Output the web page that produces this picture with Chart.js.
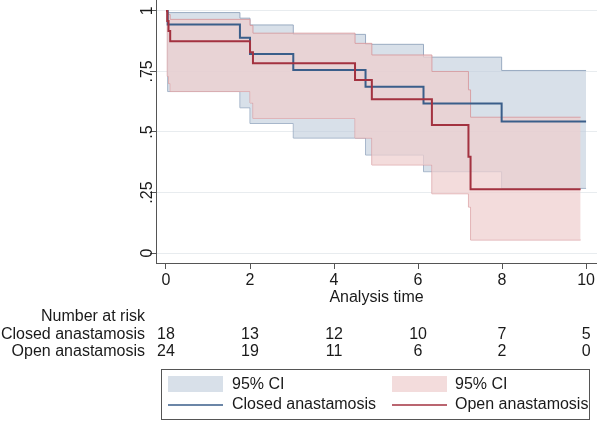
<!DOCTYPE html>
<html>
<head>
<meta charset="utf-8">
<script src="https://cdn.jsdelivr.net/npm/chart.js@4/dist/chart.umd.min.js"></script>
<style>
  html, body { margin: 0; padding: 0; background: #ffffff; }
  #wrap { width: 597px; height: 421px; position: relative; }
</style>
</head>
<body>
<div id="wrap"><canvas id="c" width="597" height="421"></canvas></div>
<script>
// ---- Data ----
const closedTime = [0, 0.04, 1.76, 2.0, 3.03, 4.75, 6.13, 7.99, 10.0];
const closedSurv = [1, 0.944, 0.889, 0.822, 0.756, 0.687, 0.618, 0.543, 0.543];
const closedCITime = [0, 0.04, 1.76, 2.0, 3.03, 4.75, 6.13, 7.99, 10.0];
const closedUpper = [1, 0.993, 0.97, 0.942, 0.903, 0.862, 0.809, 0.754, 0.754];
const closedLower = [1, 0.667, 0.60, 0.535, 0.475, 0.405, 0.336, 0.267, 0.267];

const openTime = [0, 0.03, 0.06, 0.1, 2.0, 2.07, 4.5, 4.9, 6.33, 7.2, 7.25, 9.87];
const openSurv = [1, 0.958, 0.917, 0.875, 0.829, 0.784, 0.715, 0.635, 0.529, 0.398, 0.264, 0.264];
const openCITime = [0, 0.03, 0.06, 0.1, 2.0, 2.07, 4.5, 4.9, 6.33, 7.2, 7.25, 9.87];
const openUpper = [1, 0.995, 0.985, 0.965, 0.94, 0.908, 0.866, 0.818, 0.75, 0.674, 0.561, 0.561];
const openLower = [1, 0.73, 0.70, 0.667, 0.62, 0.556, 0.475, 0.364, 0.245, 0.19, 0.054, 0.054];

const xTicks = [0, 2, 4, 6, 8, 10];
const yTicks = [0, 0.25, 0.5, 0.75, 1];
const yTickLabels = ['0', '.25', '.5', '.75', '1'];
const xTitle = 'Analysis time';

const riskTimes = [0, 2, 4, 6, 8, 10];
const riskHeader = 'Number at risk';
const groupNames = ['Closed anastamosis', 'Open anastamosis'];
const riskClosed = [18, 13, 12, 10, 7, 5];
const riskOpen = [24, 19, 11, 6, 2, 0];
const ciLabel = '95% CI';

// ---- Styles ----
const FONT = '"Liberation Sans", Arial, Helvetica, sans-serif';
const TXT = '#1a1a1a';
const BLUE = 'rgb(58,94,138)';
const RED = 'rgb(163,50,64)';
const BLUE_FILL = 'rgba(190,203,219,0.6)';
const BLUE_EDGE = 'rgba(140,160,186,0.85)';
const PINK_FILL = 'rgba(238,206,206,0.72)';
const PINK_EDGE = 'rgba(214,150,155,0.85)';

function pts(xs, ys) { return xs.map((x, i) => ({ x: x, y: ys[i] })); }

const overlay = {
  id: 'overlay',
  afterDraw(chart) {
    const ctx = chart.ctx;
    const xs = chart.scales.x, ys = chart.scales.y;
    const ca = chart.chartArea;
    ctx.save();
    ctx.fillStyle = TXT;
    ctx.font = '16px ' + FONT;
    // rotated y tick labels
    yTicks.forEach((v, i) => {
      const py = ys.getPixelForValue(v);
      ctx.save();
      ctx.translate(148, py);
      ctx.rotate(-Math.PI / 2);
      ctx.textAlign = 'center';
      ctx.textBaseline = 'middle';
      ctx.fillText(yTickLabels[i], 0, 0);
      ctx.restore();
    });
    // x title
    ctx.textAlign = 'center';
    ctx.textBaseline = 'middle';
    ctx.fillText(xTitle, (ca.left + ca.right) / 2, 298);
    // risk table
    ctx.textAlign = 'right';
    ctx.fillText(riskHeader, 145, 317);
    ctx.fillText(groupNames[0], 145, 335);
    ctx.fillText(groupNames[1], 145, 352);
    ctx.textAlign = 'center';
    riskTimes.forEach((t, i) => {
      const px = xs.getPixelForValue(t);
      ctx.fillText(String(riskClosed[i]), px, 335);
      ctx.fillText(String(riskOpen[i]), px, 352);
    });
    // legend
    ctx.strokeStyle = '#555';
    ctx.lineWidth = 1;
    ctx.strokeRect(161.5, 369.5, 428, 50);
    ctx.fillStyle = BLUE_FILL;
    ctx.fillRect(168, 376, 55, 16);
    ctx.fillStyle = PINK_FILL;
    ctx.fillRect(392, 376, 55, 16);
    ctx.lineWidth = 1.5;
    ctx.strokeStyle = BLUE;
    ctx.beginPath(); ctx.moveTo(168, 405); ctx.lineTo(223, 405); ctx.stroke();
    ctx.strokeStyle = RED;
    ctx.beginPath(); ctx.moveTo(392, 405); ctx.lineTo(447, 405); ctx.stroke();
    ctx.fillStyle = TXT;
    ctx.textAlign = 'left';
    ctx.fillText(ciLabel, 232, 385);
    ctx.fillText(ciLabel, 455, 385);
    ctx.fillText(groupNames[0], 232, 405);
    ctx.fillText(groupNames[1], 455, 405);
    ctx.restore();
  }
};

new Chart(document.getElementById('c'), {
  type: 'line',
  data: {
    datasets: [
      { label: groupNames[1], data: pts(openTime, openSurv), stepped: true,
        borderColor: RED, borderWidth: 2, pointRadius: 0, fill: false },
      { label: groupNames[0], data: pts(closedTime, closedSurv), stepped: true,
        borderColor: BLUE, borderWidth: 2, pointRadius: 0, fill: false },
      { label: 'open upper', data: pts(openCITime, openUpper), stepped: true,
        borderColor: PINK_EDGE, borderWidth: 1, pointRadius: 0,
        backgroundColor: PINK_FILL, fill: '+1' },
      { label: 'open lower', data: pts(openCITime, openLower), stepped: true,
        borderColor: PINK_EDGE, borderWidth: 1, pointRadius: 0, fill: false },
      { label: 'closed upper', data: pts(closedCITime, closedUpper), stepped: true,
        borderColor: BLUE_EDGE, borderWidth: 1, pointRadius: 0,
        backgroundColor: BLUE_FILL, fill: '+1' },
      { label: 'closed lower', data: pts(closedCITime, closedLower), stepped: true,
        borderColor: BLUE_EDGE, borderWidth: 1, pointRadius: 0, fill: false }
    ]
  },
  options: {
    responsive: false,
    animation: false,
    maintainAspectRatio: false,
    layout: { padding: 0 },
    plugins: { legend: { display: false }, tooltip: { enabled: false } },
    scales: {
      x: {
        type: 'linear', min: -0.238, max: 10.26,
        afterBuildTicks: s => { s.ticks = xTicks.map(v => ({ value: v })); },
        afterFit: s => { s.height = 158; },
        grid: { display: true, drawOnChartArea: false, drawTicks: true, tickLength: 6, tickColor: '#555', color: '#555' },
        border: { display: true, color: '#555', width: 1 },
        ticks: { font: { family: FONT, size: 16 }, color: TXT, padding: 2, maxRotation: 0, autoSkip: false }
      },
      y: {
        type: 'linear', min: -0.041, max: 1.045,
        afterBuildTicks: s => { s.ticks = yTicks.map(v => ({ value: v })); },
        afterFit: s => { s.width = 156; },
        grid: { display: true, drawOnChartArea: true, drawTicks: true, tickLength: 6, tickColor: '#555', color: '#e8ecef' },
        border: { display: true, color: '#555', width: 1 },
        ticks: { display: false }
      }
    }
  },
  plugins: [overlay]
});
</script>
</body>
</html>
